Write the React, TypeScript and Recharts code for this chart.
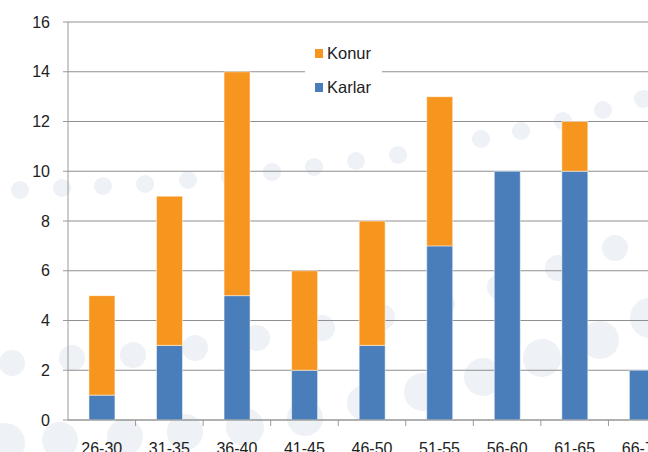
import { BarChart, Bar, XAxis, YAxis, CartesianGrid, Legend } from "recharts";

const ageGroups = ["26-30", "31-35", "36-40", "41-45", "46-50", "51-55", "56-60", "61-65", "66-70"];
const karlar = [1, 3, 5, 2, 3, 7, 10, 10, 2];
const konur = [4, 6, 9, 4, 5, 6, 0, 2, 0];
const yTicks = [0, 2, 4, 6, 8, 10, 12, 14, 16];

// slide background dots (decoration only, not data)
const bubbles: Array<[number, number, number]> = [
  [20, 190, 9], [62, 188, 9], [103, 186, 9], [145, 184, 9], [188, 180, 9], [230, 177, 9],
  [272, 172, 9], [314, 167, 9], [356, 161, 9], [398, 155, 9], [440, 147, 9], [481, 139, 9],
  [521, 131, 9], [563, 121, 9], [603, 110, 9], [643, 99, 9],
  [12, 363, 13], [72, 358, 13], [133, 355, 13], [195, 348, 13], [257, 338, 13], [322, 328, 13],
  [382, 317, 13], [442, 304, 13], [500, 287, 13], [558, 268, 13], [615, 248, 13],
  [5, 443, 20], [60, 440, 18], [125, 437, 18], [185, 432, 18], [245, 427, 19], [305, 418, 18],
  [365, 403, 18], [423, 392, 19], [483, 377, 19], [542, 358, 19], [600, 340, 19], [650, 318, 20],
];

const BLUE = "#4a7ebb";
const ORANGE = "#f7961f";
const FONT = "'Liberation Sans', Arial, sans-serif";

const data = ageGroups.map((g, i) => ({ group: g, Karlar: karlar[i], Konur: konur[i] }));

const W = 680;
const H = 480;
const MARGIN = { top: 22, right: 4, left: 0, bottom: 0 };
const Y_WIDTH = 68;
const BAND = (W - MARGIN.left - MARGIN.right - Y_WIDTH) / ageGroups.length;

function XTick(props: any) {
  const { x, y, payload } = props;
  const axisY = y - 6 - 17;
  return (
    <g>
      <line x1={x + BAND / 2} x2={x + BAND / 2} y1={axisY} y2={axisY + 6} stroke="#999" />
      <text x={x} y={y} dy="0.71em" textAnchor="middle" fontSize={16} fill="#222" fontFamily={FONT}>
        {payload.value}
      </text>
    </g>
  );
}

function LegendBox() {
  const items = [
    { name: "Konur", color: ORANGE },
    { name: "Karlar", color: BLUE },
  ];
  return (
    <div style={{ background: "#fff", width: 77, height: 70, position: "relative" }}>
      {items.map((it, i) => (
        <div
          key={it.name}
          style={{
            position: "absolute",
            left: 10,
            top: 8 + i * 34,
            display: "flex",
            alignItems: "center",
            fontFamily: FONT,
            fontSize: 16.5,
            color: "#222",
            lineHeight: "20px",
          }}
        >
          <span style={{ display: "inline-block", width: 8, height: 9, background: it.color, marginRight: 4 }} />
          {it.name}
        </div>
      ))}
    </div>
  );
}

export default function App() {
  return (
    <div style={{ position: "fixed", left: 0, top: 0, width: 648, height: 452, overflow: "hidden", background: "#fff" }}>
      <svg width={648} height={452} style={{ position: "absolute", left: 0, top: 0 }}>
        {bubbles.map(([cx, cy, r], i) => (
          <circle key={i} cx={cx} cy={cy} r={r} fill="#eef1f5" />
        ))}
      </svg>
      <div style={{ position: "absolute", left: 0, top: 0 }}>
        <BarChart width={W} height={H} data={data} margin={MARGIN} barCategoryGap="31%">
          <CartesianGrid vertical={false} stroke="#8f8f8f" strokeWidth={1} />
          <XAxis
            dataKey="group"
            stroke="#999"
            tickLine={false}
            tickSize={6}
            tickMargin={17}
            height={60}
            interval={0}
            tick={<XTick />}
          />
          <YAxis
            domain={[0, 16]}
            ticks={yTicks}
            width={Y_WIDTH}
            stroke="#999"
            tickSize={5}
            tickMargin={13}
            tick={{ fontSize: 16, fill: "#222", fontFamily: FONT }}
          />
          <Legend
            layout="vertical"
            align="center"
            verticalAlign="middle"
            wrapperStyle={{ left: 305, top: 35, width: 77, height: 70 }}
            content={<LegendBox />}
          />
          <Bar dataKey="Karlar" stackId="a" fill={BLUE} stroke="rgba(255,255,255,0.5)" strokeWidth={1} isAnimationActive={false} />
          <Bar dataKey="Konur" stackId="a" fill={ORANGE} stroke="rgba(255,255,255,0.5)" strokeWidth={1} isAnimationActive={false} />
        </BarChart>
      </div>
    </div>
  );
}
